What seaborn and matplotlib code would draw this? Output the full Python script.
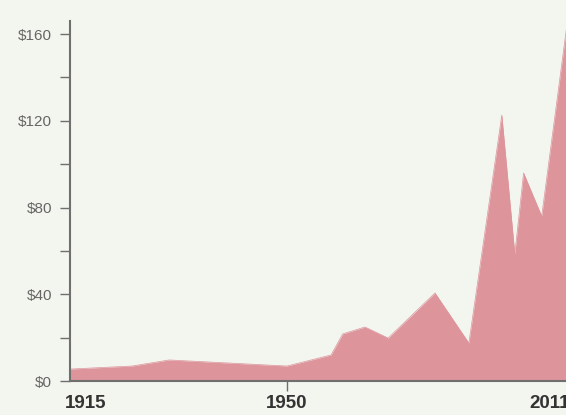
import numpy as np
import pandas as pd
import matplotlib
matplotlib.use('Agg')
import matplotlib.pyplot as plt
import matplotlib.transforms as mtransforms
import seaborn as sns

# values
years = [1915, 1925, 1931, 1950, 1959.5, 1962, 1966.8, 1971.8, 1981.9, 1989.2,
         1996.3, 1999.1, 2001, 2004.9, 2011]
price = [5.5, 6.9, 9.7, 6.9, 12, 21.7, 24.9, 19.8, 40.6, 17.5,
         122.6, 58.6, 95.9, 76, 175]
year_ticks = [1915, 1950, 2011]
year_labels = ['1915', '1950', '2011']
price_ticks = [0, 40, 80, 120, 160]

df = pd.DataFrame({'year': years, 'price': price})

bg = '#f3f5ef'
fill = '#dd949b'
axis_grey = '#6f6f6f'

sns.set_theme(style='ticks')
plt.rcParams['font.family'] = ['Liberation Sans Narrow', 'Liberation Sans', 'DejaVu Sans']

fig = plt.figure(figsize=(5.66, 4.15), dpi=100, facecolor=bg)
ax = fig.add_axes([70 / 566, 1 - 381 / 415, 500 / 566, 360 / 415])
ax.set_facecolor(bg)

# the time axis is stretched differently before and after 1950
knots_year = [1915, 1950, 2011]
knots_pos = [0, 217, 500]
ax.set_xscale('function', functions=(
    lambda x: np.interp(x, knots_year, knots_pos, left=-1e9, right=1e9),
    lambda p: np.interp(p, knots_pos, knots_year)))

sns.lineplot(data=df, x='year', y='price', color=fill, linewidth=0.5, ax=ax)
ax.fill_between(df['year'], df['price'], 0, color=fill, linewidth=0)

ax.set_xlim(1915, 2011)
ax.set_ylim(0, 166)

# axis styling
for side in ['top', 'right']:
    ax.spines[side].set_visible(False)
for side in ['left', 'bottom']:
    ax.spines[side].set_color(axis_grey)
    ax.spines[side].set_linewidth(1.5)

ax.set_yticks(price_ticks)
ax.set_yticklabels(['$' + str(p) for p in price_ticks])
ax.set_yticks(np.arange(20, 160, 40), minor=True)
ax.tick_params(axis='y', which='both', length=7, width=1, color=axis_grey,
               labelsize=11, labelcolor='#666666', pad=6)

ax.set_xticks(year_ticks)
ax.set_xticklabels(year_labels)
ax.tick_params(axis='x', length=7, width=1, color=axis_grey,
               labelsize=13.5, labelcolor='#333333', pad=3)
ax.xaxis.set_minor_locator(matplotlib.ticker.NullLocator())
xticks = ax.xaxis.get_major_ticks()
xticks[0].tick1line.set_visible(False)
xticks[-1].tick1line.set_visible(False)
for lab, ha in zip(ax.get_xticklabels(), ['left', 'center', 'right']):
    lab.set_fontweight('bold')
    lab.set_horizontalalignment(ha)
# nudge the first year label a bit left, like the original
first = xticks[0].label1
first.set_transform(first.get_transform() +
                    mtransforms.ScaledTranslation(-5 / 100, 0, fig.dpi_scale_trans))

ax.set_xlabel('')
ax.set_ylabel('')

fig.savefig('out.png', dpi=100, facecolor=bg)
